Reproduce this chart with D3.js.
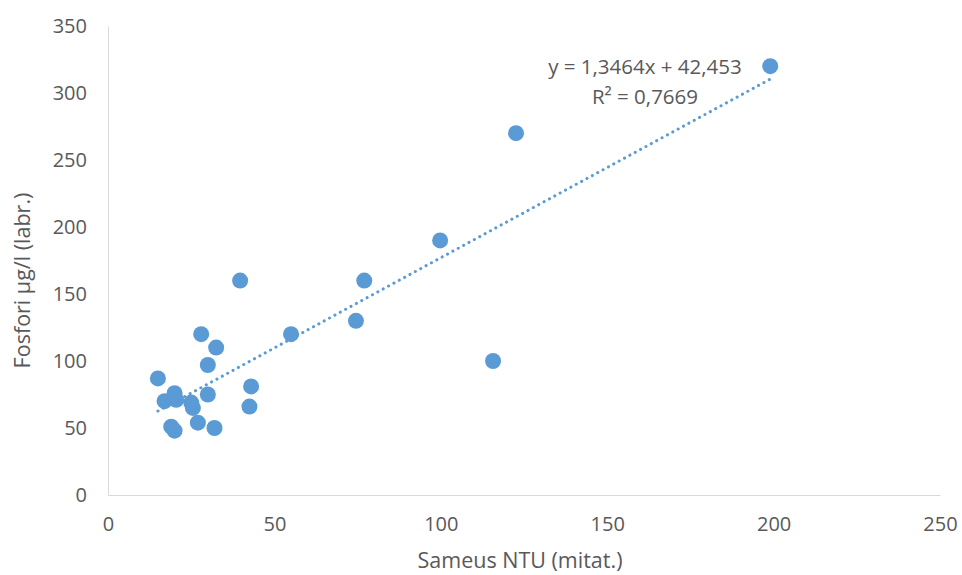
<!DOCTYPE html>
<html lang="fi">
<head>
	<meta charset="UTF-8">
	<title>Sameus ja fosfori</title>
	<script src="https://cdn.jsdelivr.net/npm/d3@7"></script>
	<style type="text/css">
		body { margin: 0; background: #fff; }
		text { font-family: "Open Sans", "Liberation Sans", sans-serif; fill: #595959; }
		.axis path, .axis line { stroke: #d9d9d9; }
		.dot { fill: #5b9bd5; stroke: none; }
	</style>
</head>
<body>
<script type="text/javascript">
	// Sameus NTU (mitat.) vs Fosfori µg/l (labr.)
	var ntu = [15, 20, 17, 20.5, 25, 25.5, 30, 19, 20, 27, 32, 30, 32.5, 28, 39.7, 43, 42.5, 55, 74.5, 77, 99.8, 115.7, 122.6, 199];
	var fosfori = [87, 76, 70, 71, 69, 65, 75, 51, 48, 54, 50, 97, 110, 120, 160, 81, 66, 120, 130, 160, 190, 100, 270, 320];
	var xTicks = [0, 50, 100, 150, 200, 250];
	var yTicks = [0, 50, 100, 150, 200, 250, 300, 350];
	var slope = 1.3464, intercept = 42.453;
	var eqLines = ['y = 1,3464x + 42,453', 'R² = 0,7669'];

	var W = 962, H = 575;
	var margin = {top: 26, left: 108, bottom: 80, right: 22};
	var width = W - margin.left - margin.right;
	var height = H - margin.top - margin.bottom;

	var svg = d3.select('body').append('svg')
		.attr('width', W)
		.attr('height', H);

	var g = svg.append('g')
		.attr('transform', 'translate(' + margin.left + ',' + margin.top + ')');

	var x = d3.scaleLinear().domain([0, 250]).range([0, width]);
	var y = d3.scaleLinear().domain([0, 350]).range([height, 0]);

	g.append('g')
		.attr('class', 'axis')
		.attr('transform', 'translate(0,' + height + ')')
		.call(d3.axisBottom(x).tickValues(xTicks).tickSize(0).tickPadding(22))
		.call(function (a) {
			a.selectAll('text').style('font-size', '20px').style('fill', '#595959');
		});

	g.append('g')
		.attr('class', 'axis')
		.call(d3.axisLeft(y).tickValues(yTicks).tickSize(0).tickPadding(21))
		.call(function (a) {
			a.selectAll('text').style('font-size', '20px').style('fill', '#595959');
		});

	// trendline
	var ext = d3.extent(ntu);
	g.append('line')
		.attr('x1', x(ext[0])).attr('y1', y(slope * ext[0] + intercept))
		.attr('x2', x(ext[1])).attr('y2', y(slope * ext[1] + intercept))
		.style('stroke', '#5b9bd5')
		.style('stroke-width', 3)
		.style('stroke-linecap', 'round')
		.style('stroke-dasharray', '0.1 6');

	g.selectAll('.dot')
		.data(ntu)
		.enter().append('circle')
		.attr('class', 'dot')
		.attr('r', 8)
		.attr('cx', function (d) { return x(d); })
		.attr('cy', function (d, i) { return y(fosfori[i]); });

	g.selectAll('.eq')
		.data(eqLines)
		.enter().append('text')
		.attr('class', 'eq')
		.attr('x', 537)
		.attr('y', function (d, i) { return 48 + i * 30; })
		.attr('text-anchor', 'middle')
		.style('font-size', '20.5px')
		.text(function (d) { return d; });

	svg.append('text')
		.attr('x', margin.left + width / 2 - 4)
		.attr('y', 568)
		.attr('text-anchor', 'middle')
		.style('font-size', '21.5px')
		.text('Sameus NTU (mitat.)');

	svg.append('text')
		.attr('transform', 'translate(30,' + (margin.top + height / 2 + 20) + ') rotate(-90)')
		.attr('text-anchor', 'middle')
		.style('font-size', '21.5px')
		.text('Fosfori µg/l (labr.)');
</script>
</body>
</html>
